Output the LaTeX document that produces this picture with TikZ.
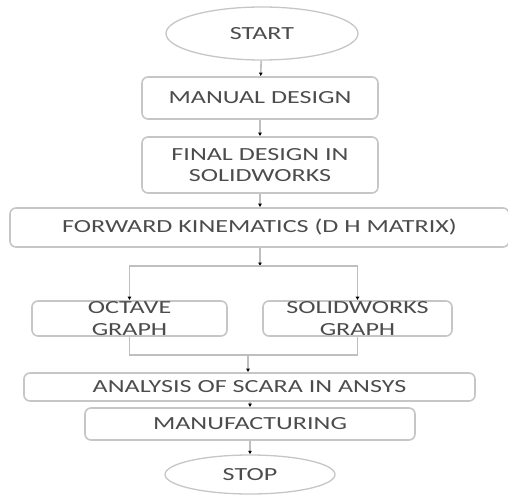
\documentclass[tikz,border=0pt]{standalone}
\usepackage{fontspec}
\newfontfamily\chartfont[FakeStretch=1.41]{Carlito}
\usetikzlibrary{arrows.meta,calc,positioning,shapes.geometric}

\tikzset{
  stepbox/.style={draw=gray!45,line width=1.6pt,rounded corners=6pt,
    text=black!70,align=center,inner sep=0pt,
    font=\chartfont\fontsize{18.5}{21.5}\selectfont},
  termbox/.style={ellipse,draw=gray!45,line width=1.3pt,text=black!70,
    inner sep=0pt,font=\chartfont\fontsize{18.5}{21.5}\selectfont},
  flow/.style={draw=gray!50,line width=1.6pt,
    -{Latex[black,length=3.5pt,width=4pt]}},
  link/.style={draw=gray!50,line width=1.6pt}
}

\begin{document}
\begin{tikzpicture}[x=1pt,y=-1pt]
  \useasboundingbox (0,0) rectangle (508,495);
  \node[termbox,minimum width=192pt,minimum height=53pt] (start) at (262,33.5) {START};
  \node[stepbox,minimum width=236pt,minimum height=42pt] (manual) at (260,98) {MANUAL DESIGN};
  \node[stepbox,minimum width=236pt,minimum height=56pt] (final) at (260,165)
    {FINAL DESIGN IN\\SOLIDWORKS};
  \node[stepbox,minimum width=499pt,minimum height=39pt] (forward) at (259.5,227.5)
    {FORWARD KINEMATICS (D H MATRIX)};
  \node[stepbox,minimum width=195pt,minimum height=35pt] (octave) at (129.5,318.5)
    {OCTAVE\\GRAPH};
  \node[stepbox,minimum width=189pt,minimum height=35pt] (solid) at (357.5,318.5)
    {SOLIDWORKS\\GRAPH};
  \node[stepbox,minimum width=451pt,minimum height=28pt] (analysis) at (249.5,387)
    {ANALYSIS OF SCARA IN ANSYS};
  \node[stepbox,minimum width=330pt,minimum height=32pt] (manuf) at (250,424)
    {MANUFACTURING};
  \node[termbox,minimum width=170pt,minimum height=39pt] (stop) at (250,474.5) {STOP};
  % splitting and merging points
  \coordinate (split) at (260,266);
  \coordinate (merge) at (248,355);
  \draw[flow] (start) -- (manual);
  \draw[flow] (manual) -- (final);
  \draw[flow] (final) -- (final.south |- forward.north);
  \draw[flow] (split |- forward.south) -- (split);
  \draw[flow] (split) -| (octave.north);
  \draw[flow] (split) -| (solid.north);
  \draw[link] (octave.south) |- (merge);
  \draw[link] (solid.south) |- (merge);
  \draw[flow] (merge) -- (merge |- analysis.north);
  \draw[flow] (analysis.south -| manuf) -- (manuf.north);
  \draw[flow] (manuf) -- (stop);
\end{tikzpicture}
\end{document}
